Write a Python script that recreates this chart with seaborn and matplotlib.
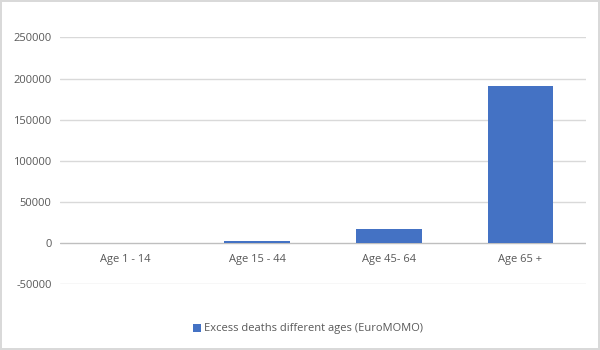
import pandas as pd
import matplotlib.pyplot as plt
import seaborn as sns
from matplotlib.patches import Patch

# Data
age_groups = ["Age 1 - 14", "Age 15 - 44", "Age 45- 64", "Age 65 +"]
excess_deaths = [150, 2400, 17400, 190900]
series_name = "Excess deaths different ages (EuroMOMO)"
y_ticks = [-50000, 0, 50000, 100000, 150000, 200000, 250000]

df = pd.DataFrame({"group": age_groups, "deaths": excess_deaths})

sns.set_theme(style="white")
plt.rcParams["font.family"] = ["Open Sans", "DejaVu Sans"]

bar_color = "#4472C4"
text_color = "#595959"
grid_color = "#d9d9d9"

fig = plt.figure(figsize=(6, 3.5), dpi=100)
fig.patch.set_edgecolor(grid_color)
fig.patch.set_linewidth(1.5)
ax = fig.add_axes([0.1, 0.188, 0.877, 0.705])

sns.barplot(data=df, x="group", y="deaths", color=bar_color, width=0.5,
            saturation=1, linewidth=0, ax=ax, zorder=3)

# Gridlines
for t in y_ticks:
    ax.axhline(t, color="#bfbfbf" if t == 0 else grid_color, lw=1, zorder=1)

ax.set_ylim(-50000, 250000)
ax.set_xlim(-0.5, 3.5)
ax.set_yticks(y_ticks)
ax.set_yticklabels([str(t) for t in y_ticks])
ax.tick_params(axis="y", length=0, labelsize=8, labelcolor=text_color, pad=6)
ax.tick_params(axis="x", length=0, labelsize=8, labelcolor=text_color, pad=-22)
ax.set_xlabel("")
ax.set_ylabel("")
for s in ax.spines.values():
    s.set_visible(False)

handle = Patch(facecolor=bar_color, edgecolor="none", label=series_name)
fig.legend(handles=[handle], loc="center", bbox_to_anchor=(0.513, 0.06),
           frameon=False, fontsize=8, labelcolor=text_color,
           handlelength=0.7, handleheight=0.7, handletextpad=0.3)

plt.savefig("out.png", dpi=100)
plt.close()
